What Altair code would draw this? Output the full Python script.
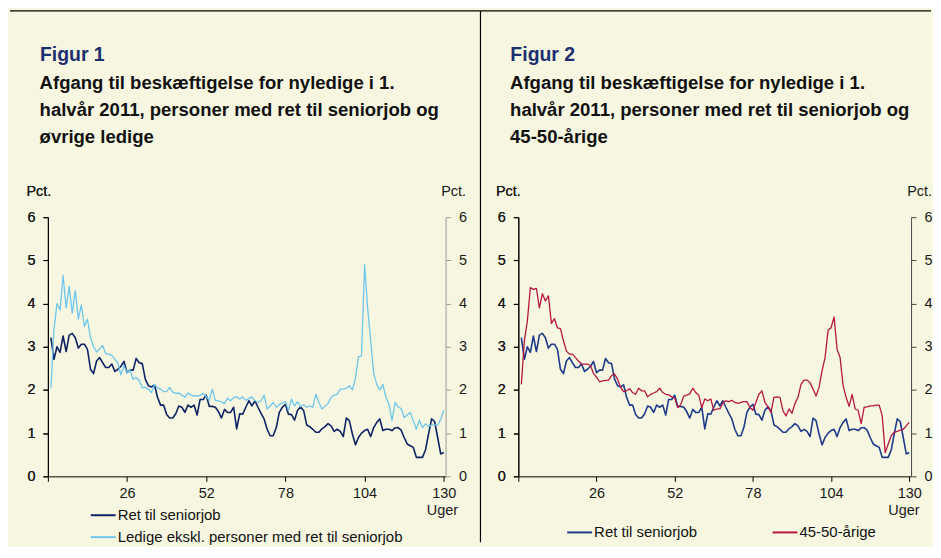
import altair as alt
import pandas as pd

weeks = list(range(1, 131))

seniorjob = [3.21, 2.71, 3.00, 2.87, 3.25, 2.89, 3.27, 3.31, 3.21, 2.97,
             3.06, 3.06, 2.94, 2.48, 2.38, 2.67, 2.75, 2.63, 2.52, 2.52,
             2.60, 2.43, 2.48, 2.55, 2.66, 2.40, 2.46, 2.46, 2.73, 2.63,
             2.61, 2.25, 2.10, 2.07, 2.12, 1.83, 1.65, 1.65, 1.43, 1.35,
             1.35, 1.45, 1.63, 1.60, 1.48, 1.65, 1.60, 1.65, 1.42, 1.78,
             1.78, 1.88, 1.62, 1.62, 1.60, 1.50, 1.35, 1.55, 1.48, 1.48,
             1.60, 1.10, 1.45, 1.44, 1.60, 1.75, 1.63, 1.75, 1.60, 1.46,
             1.33, 1.09, 0.94, 0.94, 1.13, 1.48, 1.60, 1.67, 1.44, 1.43,
             1.30, 1.53, 1.61, 1.52, 1.19, 1.15, 1.09, 1.02, 1.02, 1.10,
             1.15, 1.22, 1.17, 1.04, 1.09, 1.04, 0.92, 1.35, 1.29, 0.98,
             0.73, 0.90, 1.00, 1.06, 1.09, 0.92, 1.13, 1.25, 1.33, 1.06,
             1.09, 1.09, 1.06, 1.12, 1.13, 1.07, 0.90, 0.75, 0.71, 0.67,
             0.44, 0.44, 0.44, 0.61, 0.98, 1.33, 1.27, 0.90, 0.52, 0.55]

ledige = [2.04, 3.40, 4.00, 3.85, 4.65, 3.90, 4.40, 3.78, 4.30, 3.64,
          3.97, 3.47, 3.64, 3.21, 3.00, 2.88, 2.95, 3.03, 2.84, 2.83,
          2.80, 2.71, 2.62, 2.35, 2.56, 2.40, 2.46, 2.25, 2.29, 2.22,
          2.05, 2.06, 2.02, 1.94, 2.13, 2.05, 2.02, 1.96, 1.96, 2.06,
          1.95, 1.92, 1.93, 1.88, 1.83, 1.93, 1.88, 1.86, 1.86, 1.88,
          1.92, 1.85, 1.76, 2.02, 1.76, 1.75, 1.72, 1.69, 1.81, 1.75,
          1.83, 1.84, 1.79, 1.84, 1.76, 1.80, 1.84, 1.75, 1.71, 1.75,
          1.88, 1.56, 1.63, 1.71, 1.60, 1.66, 1.70, 1.73, 1.53, 1.79,
          1.63, 1.73, 1.61, 1.66, 1.60, 1.63, 1.60, 1.90, 1.71, 1.56,
          1.62, 1.69, 1.83, 1.88, 1.90, 2.02, 2.02, 2.04, 2.10, 2.00,
          2.27, 2.77, 2.79, 4.91, 3.90, 3.14, 2.38, 2.13, 2.00, 2.13,
          1.83, 1.67, 1.29, 1.71, 1.61, 1.57, 1.36, 1.42, 1.48, 1.29,
          1.09, 1.30, 1.13, 1.22, 1.15, 1.19, 1.19, 1.19, 1.32, 1.53]

aarige = [2.13, 3.13, 3.60, 4.37, 4.33, 4.35, 3.90, 4.23, 4.06, 4.18,
          3.54, 3.65, 3.44, 3.42, 3.14, 2.90, 2.83, 2.83, 2.75, 2.67,
          2.60, 2.60, 2.60, 2.56, 2.38, 2.30, 2.19, 2.21, 2.22, 2.23,
          2.33, 2.37, 2.25, 2.06, 1.96, 1.98, 2.03, 1.94, 1.90, 2.04,
          1.98, 1.98, 1.84, 1.90, 1.93, 1.96, 2.04, 1.94, 1.90, 1.89,
          1.84, 1.81, 1.59, 1.66, 1.86, 1.88, 1.91, 2.04, 1.94, 1.88,
          1.59, 1.79, 1.75, 1.79, 1.53, 1.56, 1.56, 1.70, 1.75, 1.73,
          1.76, 1.71, 1.69, 1.71, 1.73, 1.73, 1.60, 1.53, 1.71, 1.90,
          1.98, 1.71, 1.61, 1.48, 1.83, 1.84, 1.83, 1.52, 1.40, 1.56,
          1.46, 1.69, 1.83, 2.13, 2.23, 2.23, 2.17, 2.02, 1.86, 2.06,
          2.44, 2.75, 3.38, 3.44, 3.69, 2.94, 2.75, 2.10, 1.83, 1.62,
          1.90, 1.56, 1.53, 1.22, 1.60, 1.61, 1.63, 1.63, 1.65, 1.65,
          1.40, 0.55, 0.75, 0.94, 1.02, 1.04, 1.07, 1.09, 1.17, 1.25]

x_ticks = [0, 26, 52, 78, 104, 130]
y_ticks = [0, 1, 2, 3, 4, 5, 6]

S_NAME = "Ret til seniorjob"
L_NAME = "Ledige ekskl. personer med ret til seniorjob"
R_NAME = "45-50-årige"

title1 = "Figur 1"
sub1 = ["Afgang til beskæftigelse for nyledige i 1.",
        "halvår 2011, personer med ret til seniorjob og",
        "øvrige ledige"]
title2 = "Figur 2"
sub2 = ["Afgang til beskæftigelse for nyledige i 1.",
        "halvår 2011, personer med ret til seniorjob og",
        "45-50-årige"]

FONT = "Liberation Sans"
CREAM = "#F7F7E1"
TITLE_NAVY = "#1B2E6E"


def panel(series_a, series_b, name_b, color_a, color_b, width, title, sub,
          right_axis_color, uger_x, pct_left_x, pct_right_x, legend, rules):
    df = pd.DataFrame({
        "uge": weeks + weeks,
        "pct": series_a + series_b,
        "serie": [S_NAME] * len(weeks) + [name_b] * len(weeks),
    })
    names = [S_NAME, name_b]
    xenc = alt.X("uge:Q",
                 scale=alt.Scale(domain=[0, 130.6], nice=False, zero=False),
                 axis=alt.Axis(values=x_ticks,
                               labelExpr="datum.value == 0 ? '' : datum.label",
                               title="Uger", titleX=uger_x, titleY=38,
                               titleAlign="right", titleBaseline="alphabetic",
                               titleFontWeight="normal", titleFontSize=14.5,
                               tickSize=5, labelPadding=5,
                               domainColor="#000000", tickColor="#000000"))
    ysc = alt.Scale(domain=[0, 6], nice=False, zero=True)
    yleft = alt.Y("pct:Q", scale=ysc,
                  axis=alt.Axis(values=y_ticks, orient="left", title="Pct.",
                                titleAngle=0, titleX=pct_left_x, titleY=-22,
                                titleAlign="left", titleBaseline="alphabetic",
                                titleFontWeight="normal", titleFontSize=14.5,
                                tickSize=5, labelPadding=8,
                                domainColor="#000000", tickColor="#000000"))
    cenc = alt.Color("serie:N", sort=names,
                     scale=alt.Scale(domain=names, range=[color_a, color_b]),
                     legend=alt.Legend(**legend))
    base = alt.Chart(df)
    line_a = base.transform_filter(
        alt.datum.serie == S_NAME
    ).mark_line(strokeJoin="round", strokeWidth=1.6).encode(
        x=xenc, y=yleft, color=cenc)
    line_b = base.transform_filter(
        alt.datum.serie == name_b
    ).mark_line(strokeJoin="round", strokeWidth=1.3).encode(
        x=xenc, y=yleft, color=cenc)
    right = base.mark_line(strokeOpacity=0).encode(
        x=xenc,
        y=alt.Y("pct:Q", scale=ysc,
                axis=alt.Axis(values=y_ticks, orient="right", title="Pct.",
                              titleAngle=0, titleX=pct_right_x, titleY=-22,
                              titleAlign="right", titleBaseline="alphabetic",
                              titleFontWeight="normal", titleFontSize=14.5,
                              tickSize=5, labelPadding=8,
                              domainColor=right_axis_color,
                              tickColor=right_axis_color)),
        detail="serie:N",
    )
    one = pd.DataFrame({"k": [0]})
    t1 = alt.Chart(one).mark_text(
        align="left", baseline="alphabetic", font=FONT, fontSize=19.5,
        fontWeight="bold", color=TITLE_NAVY
    ).encode(x=alt.value(-8), y=alt.value(-157), text=alt.value(title))
    t2 = alt.Chart(one).mark_text(
        align="left", baseline="alphabetic", font=FONT, fontSize=18.6,
        fontWeight="bold", color="#111111", lineHeight=27.5
    ).encode(x=alt.value(-8.3), y=alt.value(-129), text=alt.value(sub))
    layers = [line_a, line_b, right, t1, t2]
    for r in rules:
        rc = alt.Chart(one).mark_rule(color="#000000", strokeWidth=1.2)
        layers.append(rc.encode(**r))
    return alt.layer(*layers).resolve_scale(y="independent").properties(
        width=width, height=260)


legend_common = dict(orient="none", title=None, symbolType="stroke",
                     symbolSize=625, symbolStrokeWidth=2, labelFontSize=15,
                     labelFont=FONT, labelColor="#111111", labelOffset=1,
                     padding=0, labelLimit=400)

p1 = panel(seniorjob, ledige, L_NAME, "#0E2366", "#6FC6EC", 399, title1, sub1,
           "#9A9A9A", 411, -22, 20,
           dict(legend_common, legendX=42, legendY=285.5,
                direction="vertical", rowPadding=-2),
           [dict(x=alt.value(-38), x2=alt.value(434), y=alt.value(-207)),
            ])
p2 = panel(seniorjob, aarige, R_NAME, "#1E3A8A", "#B5173F", 394, title2, sub2,
           "#444444", 402, -23, 20.5,
           dict(legend_common, legendX=48, legendY=302.5,
                direction="horizontal", columnPadding=71),
           [dict(x=alt.value(-38), x2=alt.value(414), y=alt.value(-207)),
            dict(x=alt.value(-38), y=alt.value(-207), y2=alt.value(326))])

chart = alt.hconcat(p1, p2, spacing=73, bounds="flush").resolve_scale(
    color="independent"
).resolve_legend(color="independent").properties(
    padding=0, background=CREAM
).configure_view(stroke="transparent").configure_axis(
    grid=False, labelFont=FONT, titleFont=FONT, labelFontSize=14.5,
    labelColor="#1a1a1a", titleColor="#1a1a1a"
)

chart.save("out.html", embed_options={"renderer": "svg", "actions": False})
